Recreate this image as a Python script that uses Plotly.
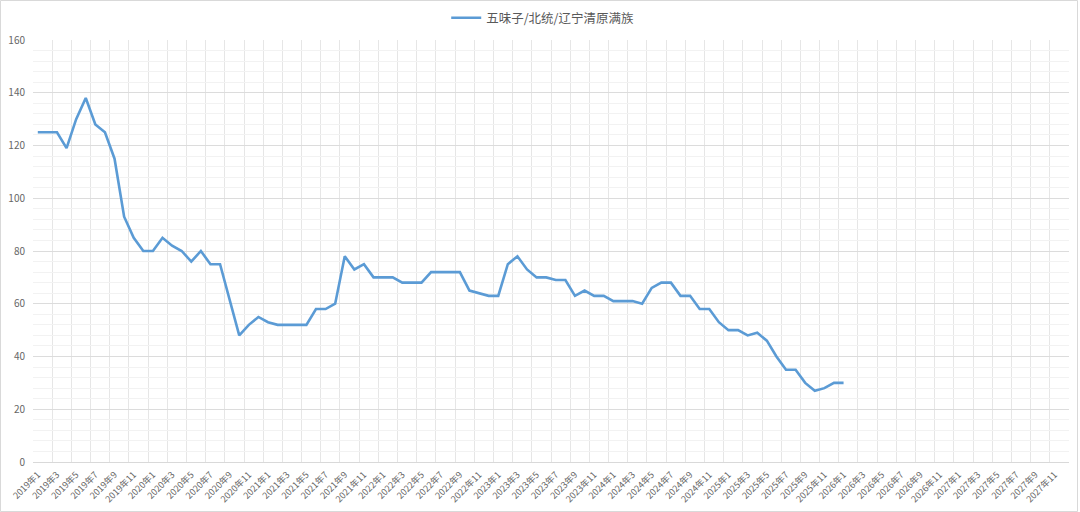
import plotly.graph_objects as go

series_name = "五味子/北统/辽宁清原满族"
years = list(range(2019, 2028))
months = [f"{y}年{m}" for y in years for m in range(1, 13)]
values = [
    125, 125, 125, 119, 130, 138, 128, 125, 115, 93, 85, 80,   # 2019
    80, 85, 82, 80, 76, 80, 75, 75, 61, 48, 52, 55,            # 2020
    53, 52, 52, 52, 52, 58, 58, 60, 78, 73, 75, 70,            # 2021
    70, 70, 68, 68, 68, 72, 72, 72, 72, 65, 64, 63,            # 2022
    63, 75, 78, 73, 70, 70, 69, 69, 63, 65, 63, 63,            # 2023
    61, 61, 61, 60, 66, 68, 68, 63, 63, 58, 58, 53,            # 2024
    50, 50, 48, 49, 46, 40, 35, 35, 30, 27, 28, 30,            # 2025
    30,                                                         # 2026
]
values = values + [None] * (len(months) - len(values))
yticks = list(range(0, 161, 20))

idx = list(range(len(months)))
tickvals = idx[::2]
ticktext = months[::2]
boundaries = [i - 0.5 for i in range(0, len(months) + 1, 2)]

fig = go.Figure()
fig.add_trace(go.Scatter(
    x=idx, y=values, mode="lines", name=series_name,
    line=dict(color="#5B9BD5", width=2.6),
    connectgaps=False,
))

font_family = "Noto Sans CJK SC, Noto Sans, sans-serif"
fig.update_layout(
    width=1080, height=512,
    margin=dict(l=33, r=11, t=40, b=50, autoexpand=False),
    paper_bgcolor="white", plot_bgcolor="white",
    font=dict(family=font_family, color="#595959"),
    showlegend=True,
    legend=dict(orientation="h", x=0.492, xanchor="center", y=1.052, yanchor="middle",
                font=dict(size=12.5, color="#595959"), itemwidth=30),
    xaxis=dict(
        range=[-0.5, len(months) - 0.5],
        tickmode="array", tickvals=tickvals, ticktext=ticktext,
        tickangle=-45, tickfont=dict(size=9, color="#666666"),
        showgrid=False, zeroline=False, automargin=False,
        showline=True, linecolor="#d9d9d9", linewidth=1,
        ticks="", ticklabelstandoff=3,
        minor=dict(tickmode="array", tickvals=boundaries, showgrid=True,
                   gridcolor="#e6e6e6", gridwidth=1, ticks=""),
    ),
    yaxis=dict(
        range=[0, 160], tickmode="array", tickvals=yticks,
        tickfont=dict(size=10, color="#666666"),
        showgrid=True, gridcolor="#dcdcdc", gridwidth=1,
        zeroline=False, ticks="", ticklabelstandoff=7, automargin=False,
        minor=dict(tickmode="linear", tick0=0, dtick=4, showgrid=True,
                   gridcolor="#f2f2f2", gridwidth=1, ticks=""),
    ),
)

fig.add_shape(type="rect", xref="paper", yref="paper",
              x0=-32.5/1036, x1=1 + 8.5/1036, y0=-49.5/422, y1=1 + 39.5/422,
              line=dict(color="#d9d9d9", width=1), fillcolor="rgba(0,0,0,0)", layer="below")

fig.write_html("out.html", config={"displayModeBar": False},
               post_script="document.body.style.margin='0';document.body.style.overflow='hidden';")
